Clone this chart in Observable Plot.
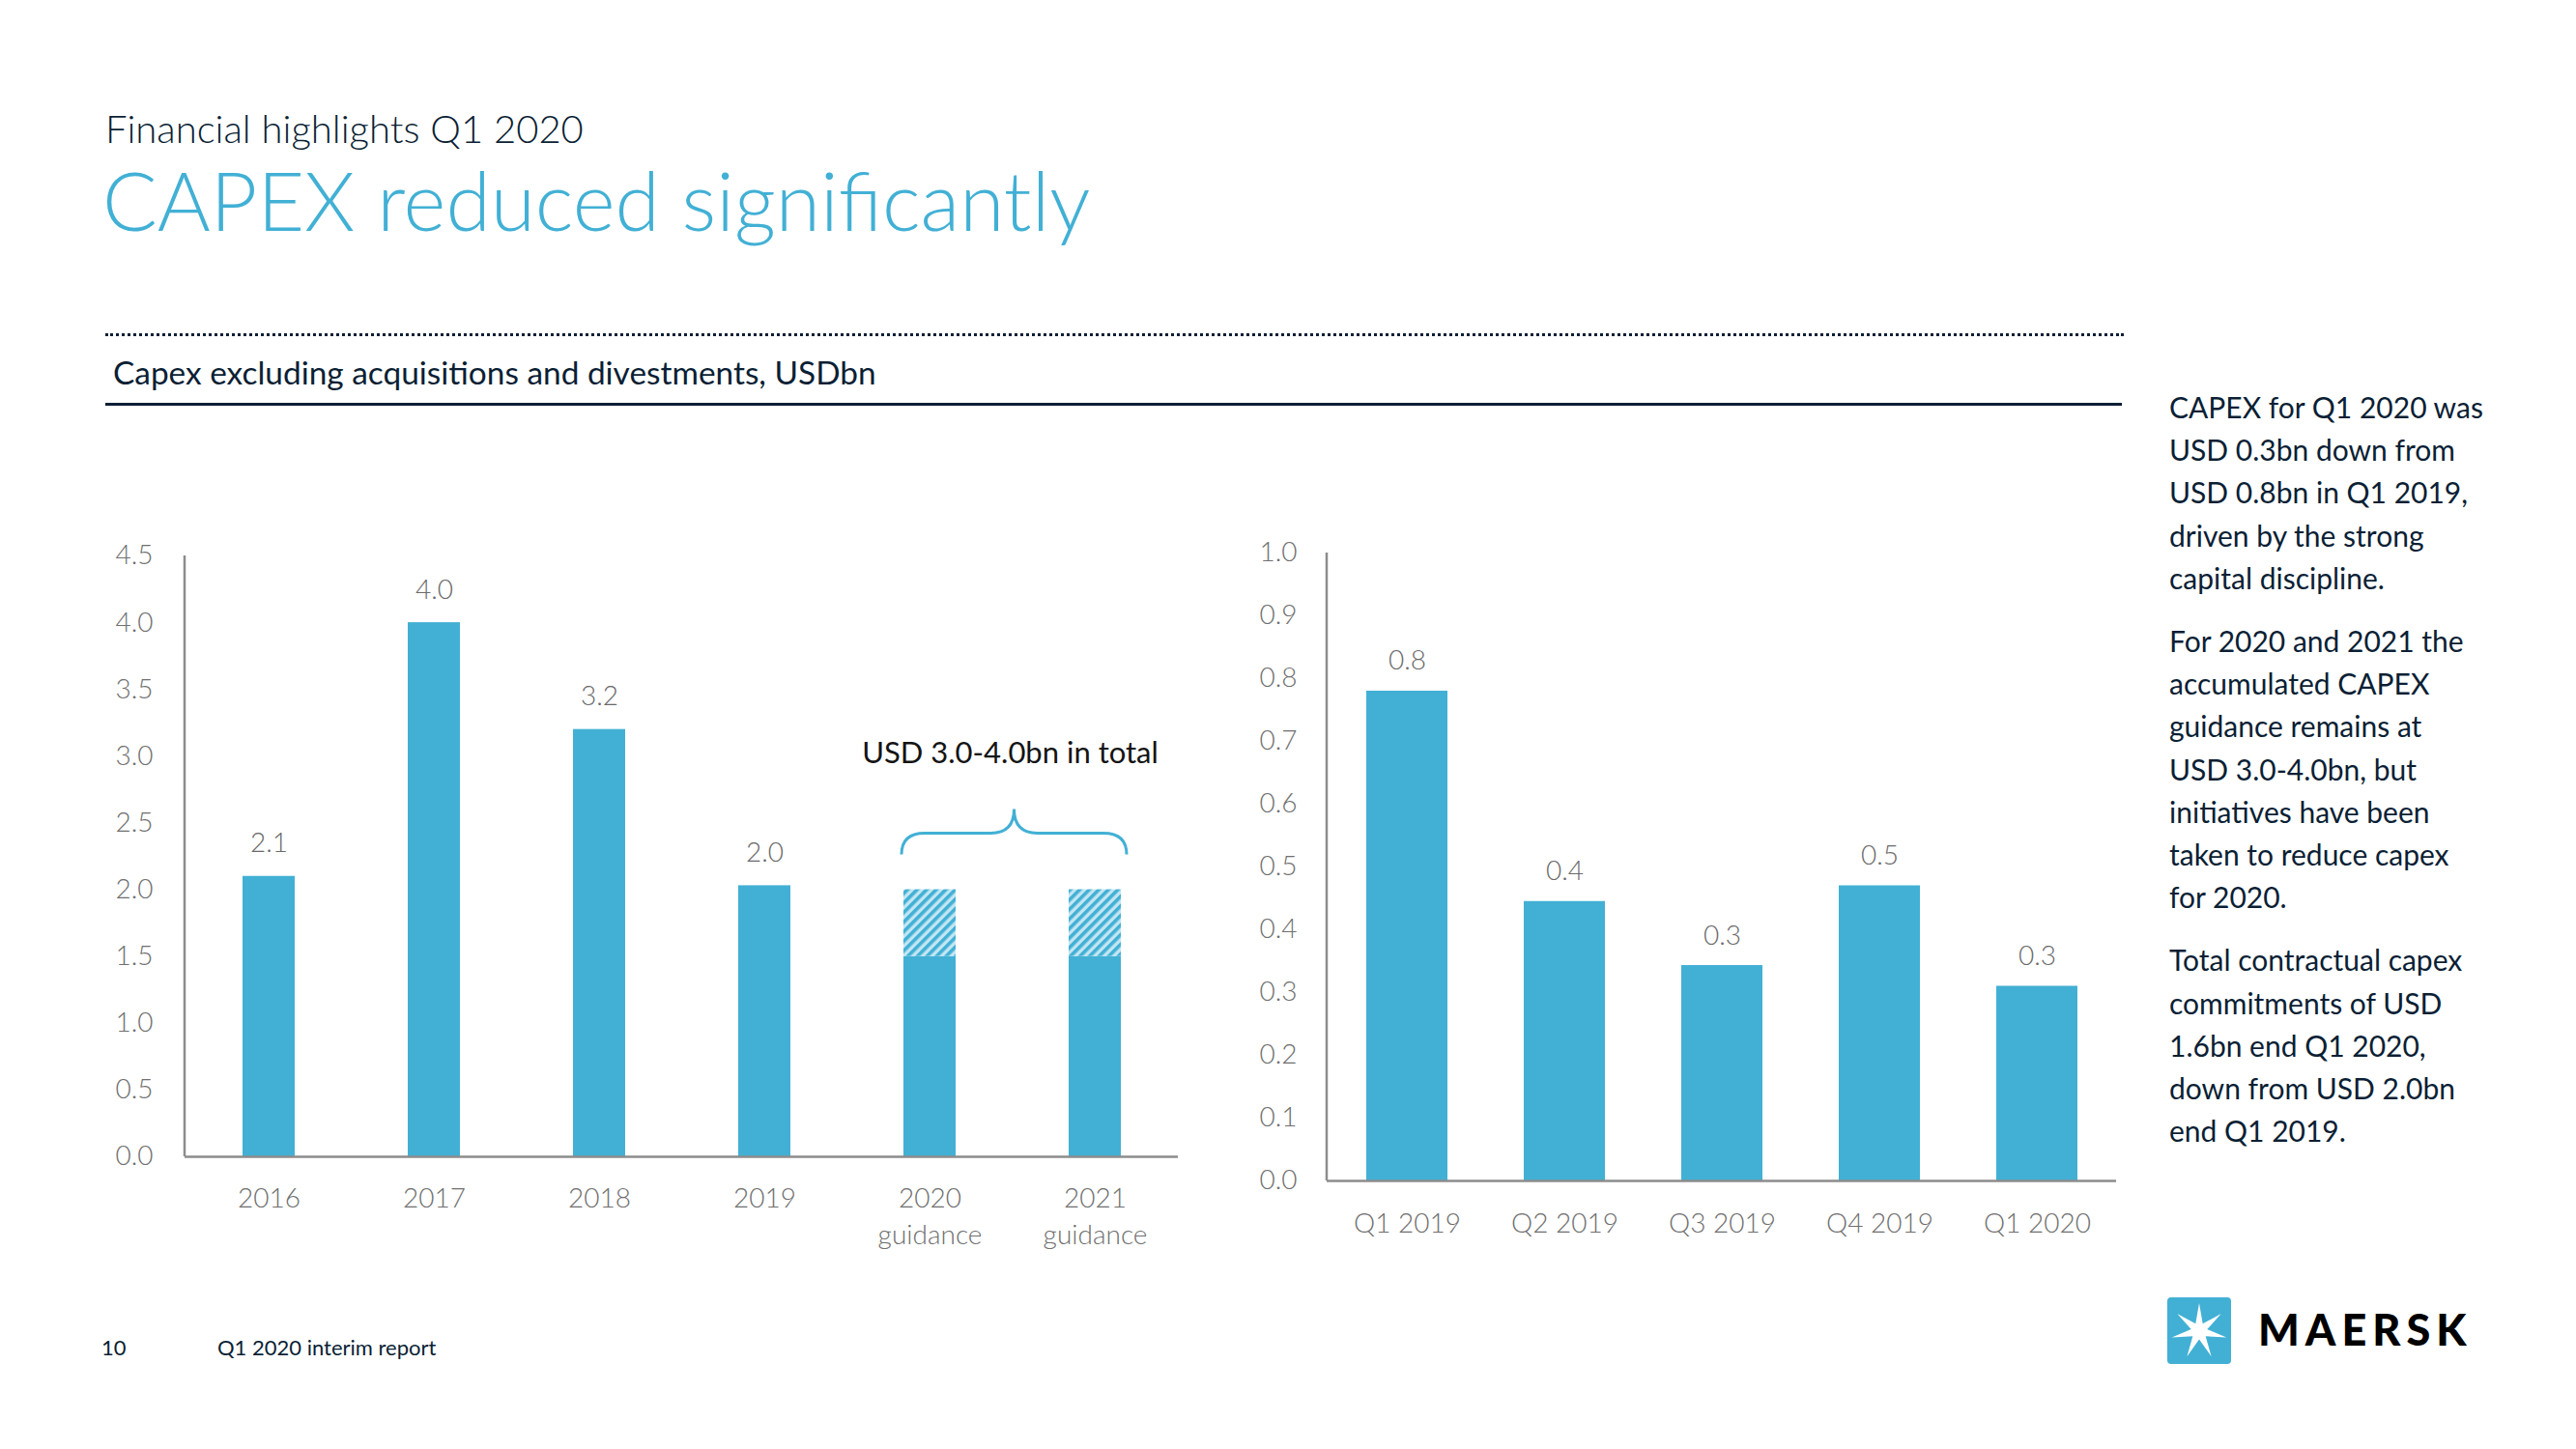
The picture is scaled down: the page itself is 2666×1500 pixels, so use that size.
<!DOCTYPE html>
<html><head><meta charset="utf-8">
<script src="https://cdn.jsdelivr.net/npm/d3@7"></script>
<script src="https://cdn.jsdelivr.net/npm/@observablehq/plot@0.6"></script>
<style>
body{margin:0;background:#fff;}
#page{position:relative;width:2666px;height:1500px;overflow:hidden;font-family:Lato,"Open Sans",sans-serif;color:#0b1f35;}
.abs{position:absolute;white-space:nowrap;line-height:1;}
.body p{margin:0 0 21px 0;}
</style></head><body><div id="page">
<div class="abs" style="left:109px;top:113px;font-size:40px;font-weight:300;">Financial highlights Q1 2020</div>
<div class="abs" style="left:106px;top:165px;font-size:84px;font-weight:300;color:#42b0d5;">CAPEX reduced significantly</div>
<div class="abs" style="left:109px;top:345px;width:2089px;border-top:3px dotted #0b1f35;"></div>
<div class="abs" style="left:117px;top:369px;font-size:33.4px;font-weight:400;">Capex excluding acquisitions and divestments, USDbn</div>
<div class="abs" style="left:109px;top:417px;width:2087px;border-top:3px solid #0b1f35;"></div>
<div class="abs body" style="left:2245px;top:399px;font-size:30px;line-height:44.2px;color:#0b1f35;">
<p>CAPEX for Q1 2020 was<br>USD 0.3bn down from<br>USD 0.8bn in Q1 2019,<br>driven by the strong<br>capital discipline.</p>
<p>For 2020 and 2021 the<br>accumulated CAPEX<br>guidance remains at<br>USD 3.0-4.0bn, but<br>initiatives have been<br>taken to reduce capex<br>for 2020.</p>
<p>Total contractual capex<br>commitments of USD<br>1.6bn end Q1 2020,<br>down from USD 2.0bn<br>end Q1 2019.</p>
</div>
<div id="left" class="abs" style="left:100px;top:540px;"></div>
<div id="right" class="abs" style="left:1290px;top:540px;"></div>
<div class="abs" style="left:105px;top:1384px;font-size:22px;">10</div>
<div class="abs" style="left:225px;top:1384px;font-size:22px;">Q1 2020 interim report</div>
<svg class="abs" id="logo" style="left:2243px;top:1343px;" width="66" height="69"></svg>
<div class="abs" style="left:2337px;top:1354px;font-size:45px;font-weight:900;color:#000;letter-spacing:6px;">MAERSK</div>
</div>
<script>
// ---- data ----
const allYears = ["2016", "2017", "2018", "2019", "2020 guidance", "2021 guidance"];
const annualYears = ["2016", "2017", "2018", "2019"];
const annualCapex = [2.1, 4.0, 3.2, 2.03];
const guidanceYears = ["2020 guidance", "2021 guidance"];
const guidanceBase = [1.5, 1.5];
const guidanceTop = [2.0, 2.0];
const leftTicks = [0, 0.5, 1.0, 1.5, 2.0, 2.5, 3.0, 3.5, 4.0, 4.5];
const braceLabel = "USD 3.0-4.0bn in total";
const braceLevels = {end: 2.26, line: 2.42, tip: 2.6, label: 3.0};

const quarters = ["Q1 2019", "Q2 2019", "Q3 2019", "Q4 2019", "Q1 2020"];
const quarterCapex = [0.78, 0.445, 0.343, 0.47, 0.31];
const quarterLabels = ["0.8", "0.4", "0.3", "0.5", "0.3"];
const rightTicks = [0, 0.1, 0.2, 0.3, 0.4, 0.5, 0.6, 0.7, 0.8, 0.9, 1.0];

// ---- build ----
const FONT = "Lato, 'Open Sans', sans-serif";
const blue = "#42b0d5";
const fmt = d3.format(".1f");
const annual = annualYears.map((year, i) => ({year, value: annualCapex[i]}));
const guidance = guidanceYears.map((year, i) => ({year, base: guidanceBase[i], top: guidanceTop[i]}));
const quarterly = quarters.map((q, i) => ({q, value: quarterCapex[i], label: quarterLabels[i]}));

const hatchDefs = () => {
  const g = d3.create("svg:defs");
  const p = g.append("pattern").attr("id", "hatch").attr("patternUnits", "userSpaceOnUse")
    .attr("width", 7).attr("height", 7).attr("patternTransform", "rotate(45)");
  p.append("rect").attr("width", 7).attr("height", 7).attr("fill", "#c2e6f3");
  p.append("rect").attr("width", 3.6).attr("height", 7).attr("fill", blue);
  return g.node();
};

const axisLine = (top) => (index, scales, values, dims) => {
  return d3.create("svg:line")
    .attr("x1", dims.marginLeft).attr("x2", dims.marginLeft)
    .attr("y1", scales.y(top)).attr("y2", scales.y(0))
    .attr("stroke", "#8c8c8c").attr("stroke-width", 2.5).node();
};

const brace = (index, scales, values, dims) => {
  const x = scales.x, y = scales.y;
  const bw = x.bandwidth ? x.bandwidth() : 54;
  const xl = x(guidanceYears[0]) - 2, xr = x(guidanceYears[1]) + bw + 6;
  const xm = (xl + xr) / 2;
  const ye = y(braceLevels.end), yl = y(braceLevels.line), yt = y(braceLevels.tip);
  const r = 24;
  const g = d3.create("svg:g");
  g.append("path")
    .attr("d", `M${xl},${ye} Q${xl},${yl} ${xl + r},${yl} L${xm - r},${yl} Q${xm},${yl} ${xm},${yt} Q${xm},${yl} ${xm + r},${yl} L${xr - r},${yl} Q${xr},${yl} ${xr},${ye}`)
    .attr("fill", "none").attr("stroke", blue).attr("stroke-width", 3);
  g.append("text").attr("x", xm - 4).attr("y", y(braceLevels.label))
    .attr("text-anchor", "middle").attr("dominant-baseline", "middle")
    .attr("fill", "#141414").attr("font-size", 31).attr("font-weight", 400).attr("font-family", FONT)
    .text(braceLabel);
  return g.node();
};

const style = {fontFamily: FONT, fontSize: "28px", fontWeight: 300, color: "#6f6f6f", background: "transparent", overflow: "visible"};

const left = Plot.plot({
  width: 1140, height: 800,
  marginLeft: 91, marginRight: 21, marginTop: 35, marginBottom: 143,
  style,
  x: {domain: allYears, paddingInner: 0.685, paddingOuter: 0.338},
  y: {domain: [0, 4.5]},
  marks: [
    hatchDefs,
    Plot.barY(annual, {x: "year", y: "value", fill: blue}),
    Plot.barY(guidance, {x: "year", y1: 0, y2: "base", fill: blue}),
    Plot.barY(guidance, {x: "year", y1: "base", y2: "top", fill: "url(#hatch)"}),
    Plot.text(annual, {x: "year", y: "value", text: d => fmt(d.value), dy: -34, fill: "#6a6a6a", fontSize: 28}),
    Plot.ruleY([0], {stroke: "#8c8c8c", strokeWidth: 2.5}),
    axisLine(4.5),
    Plot.axisY({ticks: leftTicks, tickSize: 0, tickPadding: 33, tickFormat: fmt, fontSize: 28, label: null}),
    Plot.axisX({tickSize: 0, tickPadding: 26, tickFormat: d => d.replace(" ", "\n"), lineHeight: 1.35, fontSize: 28, label: null}),
    brace
  ]
});
document.getElementById("left").appendChild(left);

const right = Plot.plot({
  width: 920, height: 800,
  marginLeft: 83, marginRight: 20, marginTop: 32, marginBottom: 118,
  style,
  x: {domain: quarters, paddingInner: 0.486, paddingOuter: 0.245},
  y: {domain: [0, 1.0]},
  marks: [
    Plot.barY(quarterly, {x: "q", y: "value", fill: blue}),
    Plot.text(quarterly, {x: "q", y: "value", text: "label", dy: -31, fill: "#6a6a6a", fontSize: 28}),
    Plot.ruleY([0], {stroke: "#8c8c8c", strokeWidth: 2.5}),
    axisLine(1.0),
    Plot.axisY({ticks: rightTicks, tickSize: 0, tickPadding: 31, tickFormat: fmt, fontSize: 28, label: null}),
    Plot.axisX({tickSize: 0, tickPadding: 34, fontSize: 28, label: null})
  ]
});
document.getElementById("right").appendChild(right);

// logo
const logo = d3.select("#logo");
logo.append("rect").attr("width", 66).attr("height", 69).attr("rx", 4).attr("fill", blue);
const cx = 33, cy = 35, R = 29, r = 8.5, pts = [];
for (let i = 0; i < 14; i++) {
  const a = -Math.PI / 2 + i * Math.PI / 7;
  const rad = i % 2 === 0 ? R : r;
  pts.push([cx + rad * Math.cos(a), cy + rad * Math.sin(a)]);
}
logo.append("polygon").attr("points", pts.map(p => p.join(",")).join(" ")).attr("fill", "#fff");
</script>
</body></html>
